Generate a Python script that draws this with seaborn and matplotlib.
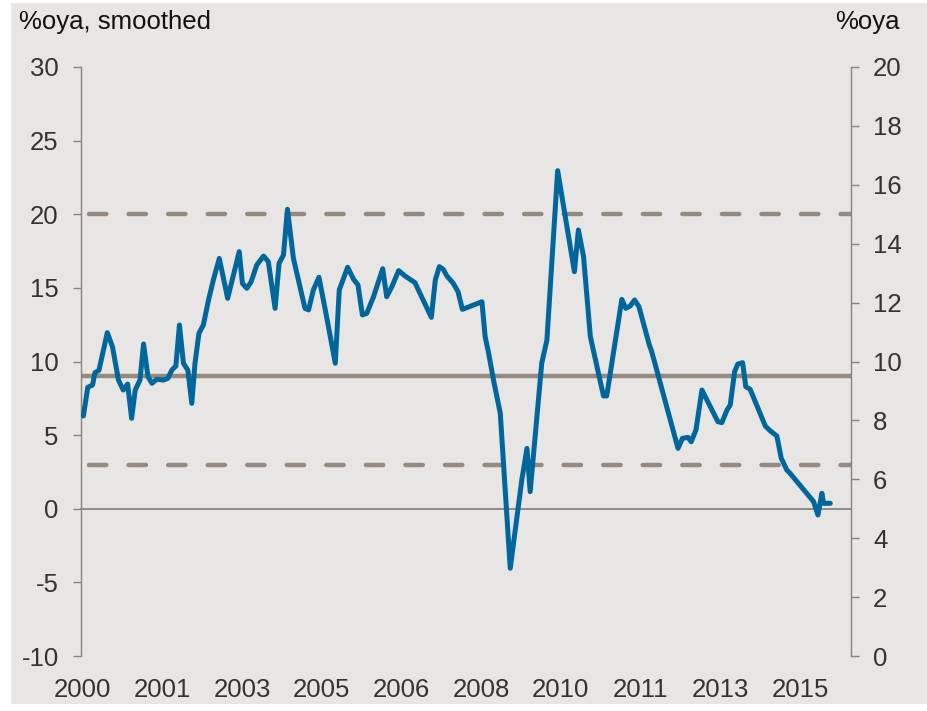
import matplotlib
matplotlib.use("Agg")
import matplotlib.pyplot as plt
import seaborn as sns
import pandas as pd
from matplotlib.patches import Rectangle

# ---- data ----
# months since Jan 2000 at which the line changes direction, and the value there (%oya, smoothed)
months = [0.2, 1.3, 2.5, 3.1, 4.1, 6.2, 7.5, 9.0, 10.2, 11.3, 12.3, 13.2, 14.4, 15.3, 16.4, 17.4,
          18.6, 20.3, 21.4, 22.4, 23.4, 24.3, 25.3, 26.4, 27.4, 28.2, 29.2, 30.3, 31.6, 32.8, 34.3,
          36.4, 39.3, 40.1, 41.2, 42.3, 43.7, 45.4, 46.6, 48.3, 49.3, 50.4, 51.4, 52.9, 55.8, 56.7,
          57.9, 59.3, 60.9, 63.4, 64.4, 66.5, 68.0, 69.1, 70.2, 71.3, 73.0, 75.3, 76.3, 77.6, 79.3,
          80.9, 83.4, 87.5, 88.5, 89.5, 90.5, 91.4, 93.0, 94.2, 95.3, 100.2, 101.0, 101.8, 103.1,
          104.8, 107.3, 110.2, 111.5, 112.3, 115.2, 116.5, 119.2, 123.4, 124.4, 125.7, 127.4, 130.7,
          131.5, 135.3, 136.3, 137.4, 138.5, 139.6, 142.2, 142.8, 149.4, 150.5, 151.9, 152.7, 153.9,
          155.4, 159.4, 160.4, 161.7, 162.5, 163.6, 164.4, 165.6, 166.4, 167.5, 171.3, 172.5, 174.2,
          175.3, 176.7, 177.5, 183.4, 184.5, 185.5, 185.9, 187.6]
values = [6.3, 8.25, 8.4, 9.24, 9.4, 11.96, 11.0, 8.74, 8.06, 8.47, 6.14, 8.06, 8.74, 11.19, 8.97, 8.52,
          8.79, 8.74, 8.86, 9.42, 9.69, 12.48, 9.88, 9.42, 7.16, 9.88, 11.92, 12.48, 14.18, 15.53, 17.0,
          14.29, 17.46, 15.31, 14.97, 15.42, 16.55, 17.16, 16.78, 13.61, 16.67, 17.23, 20.34, 17.0, 13.61, 13.5,
          14.86, 15.72, 13.5, 9.88, 14.86, 16.4, 15.58, 15.2, 13.16, 13.27, 14.4, 16.3, 14.4, 15.08, 16.17,
          15.81, 15.35, 13.0, 15.53, 16.44, 16.26, 15.81, 15.31, 14.74, 13.54, 14.06, 11.69, 10.67, 8.74,
          6.48, -4.04, 1.95, 4.1, 1.16, 9.88, 11.46, 22.96, 16.1, 18.93, 17.12, 11.69, 7.66,
          7.66, 14.22, 13.61, 13.77, 14.18, 13.72, 11.12, 10.67, 4.1, 4.78, 4.85, 4.55, 5.35,
          8.06, 5.91, 5.85, 6.71, 7.05, 9.31, 9.83, 9.92, 8.29, 8.11, 5.62, 5.3, 4.94,
          3.43, 2.63, 2.41, 0.49, -0.42, 1.05, 0.37, 0.37]

ref_upper = 20      # dashed
ref_mid = 9         # solid
ref_lower = 3       # dashed

tick_months = [0, 20, 40, 60, 80, 100, 120, 140, 160, 180]
tick_labels = ["2000", "2001", "2003", "2005", "2006", "2008", "2010", "2011", "2013", "2015"]
left_ticks = [-10, -5, 0, 5, 10, 15, 20, 25, 30]
right_ticks = [0, 2, 4, 6, 8, 10, 12, 14, 16, 18, 20]

df = pd.DataFrame({"month": months, "value": values})

# ---- style ----
BG = "#e7e6e4"
BLUE = "#00669c"
GREY = "#948a80"
AXC = "#8a847e"
TXT = "#333333"

sns.set_style("white")
plt.rcParams["font.family"] = ["Liberation Sans", "DejaVu Sans"]

fig = plt.figure(figsize=(9.28, 7.11), dpi=100, facecolor="white")
fig.patches.append(Rectangle((11 / 928, 7 / 711), 1 - 11 / 928, 1 - 10 / 711,
                             transform=fig.transFigure, facecolor=BG, edgecolor="none", zorder=-5))
ax = fig.add_axes([81 / 928, 1 - 656 / 711, (851 - 81) / 928, (656 - 67) / 711])
ax.set_facecolor("none")

# reference lines
ax.axhline(ref_mid, color=GREY, lw=3.2, zorder=2)
for lvl in (ref_upper, ref_lower):
    ax.axhline(lvl, xmin=0.01, color=GREY, lw=3.2, dash_capstyle="round",
               dashes=(3.9, 5.0), zorder=2)

sns.lineplot(data=df, x="month", y="value", ax=ax, color=BLUE, lw=3.6, zorder=3,
             estimator=None, sort=False, solid_joinstyle="round", solid_capstyle="round")

ax.set_xlim(-0.4, 192.8)
ax.set_ylim(-10, 30)
ax.set_yticks(left_ticks)
ax.set_yticklabels([str(t) for t in left_ticks])
ax.set_xlabel("")
ax.set_ylabel("")

for s in ("top", "right"):
    ax.spines[s].set_visible(False)
ax.spines["left"].set_color(AXC)
ax.spines["left"].set_linewidth(1.0)
ax.spines["bottom"].set_position(("data", 0))
ax.spines["bottom"].set_color(AXC)
ax.spines["bottom"].set_linewidth(1.3)
ax.set_xticks(tick_months)
ax.tick_params(axis="x", which="both", direction="out", length=5, width=1, color=AXC,
               labelbottom=False)
ax.tick_params(axis="y", direction="out", length=6, width=1, color=AXC,
               labelsize=18.5, labelcolor=TXT, pad=10)

# year labels along the bottom of the plot
sec = ax.secondary_xaxis("bottom")
sec.set_xticks(tick_months)
sec.set_xticklabels(tick_labels)
sec.tick_params(length=0, labelsize=18.5, labelcolor=TXT, pad=16)
sec.spines["bottom"].set_visible(False)

# right axis
ax2 = ax.twinx()
ax2.set_ylim(0, 20)
ax2.set_yticks(right_ticks)
ax2.set_yticklabels([str(t) for t in right_ticks])
for s in ("top", "left", "bottom"):
    ax2.spines[s].set_visible(False)
ax2.spines["right"].set_color(AXC)
ax2.spines["right"].set_linewidth(1.0)
ax2.tick_params(axis="y", direction="out", length=6, width=1, color=AXC,
                labelsize=18.5, labelcolor=TXT, pad=10)
ax2.set_facecolor("none")

fig.text(19 / 928, 1 - 22 / 711, "%oya, smoothed", ha="left", va="center", fontsize=18.5, color="#111111")
fig.text(900 / 928, 1 - 22 / 711, "%oya", ha="right", va="center", fontsize=18.5, color="#111111")

fig.savefig("out.png", dpi=100, facecolor="white")
